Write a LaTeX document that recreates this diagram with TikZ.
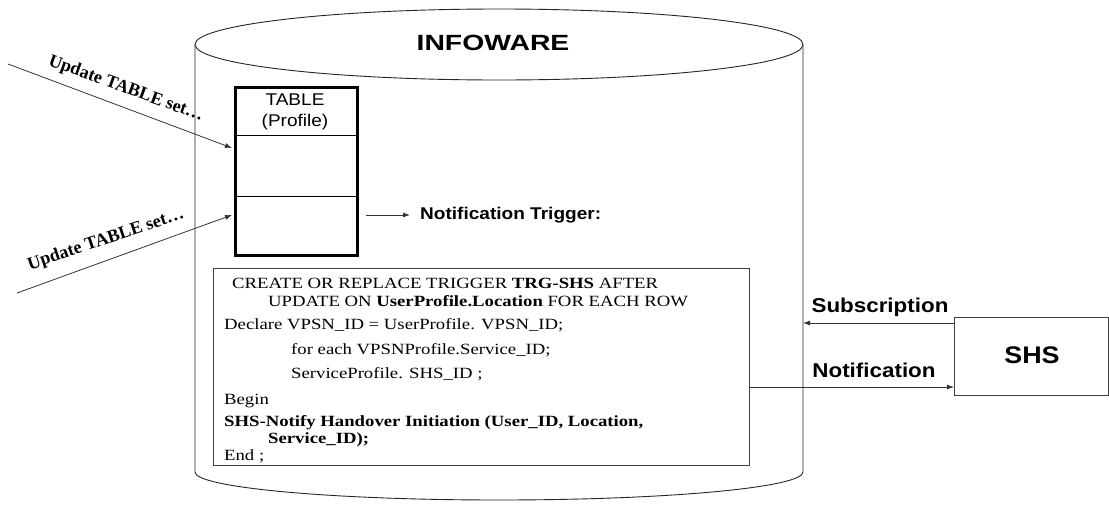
\documentclass[tikz,border=0pt]{standalone}
\usepackage{fontspec}
\usepackage{graphicx}
\setmainfont{Liberation Serif}
\newfontfamily\sansw{Liberation Sans}[FakeStretch=1.12]
\newfontfamily\codef{Liberation Serif}[FakeStretch=1.2]
\usetikzlibrary{arrows.meta}
\begin{document}
\begin{tikzpicture}[x=1pt,y=-1pt,
  outline/.style={line width=0.9pt,draw=black!85},
  arr/.style={line width=0.8pt,draw=black!80,-{Latex[length=7pt,width=5pt]}},
  tabbox/.style={draw=black,line width=2.6pt,minimum width=122pt,minimum height=168pt,inner sep=0,anchor=north west},
  codebox/.style={draw=black!75,line width=0.9pt,minimum width=536pt,minimum height=197pt,inner sep=0,anchor=north west},
  shsbox/.style={draw=black!75,line width=0.9pt,minimum width=154pt,minimum height=78pt,inner sep=0,anchor=north west},
  lab/.style={font=\bfseries\fontsize{18}{21}\selectfont,inner sep=0},
  code/.style={font=\codef\fontsize{15.6}{18}\selectfont,anchor=base west,inner sep=0},
  sanslab/.style={font=\sansw\bfseries\fontsize{20}{24}\selectfont,inner sep=0},
  tabtext/.style={font=\sansw\fontsize{17}{21}\selectfont,align=center,inner sep=0}
]
\useasboundingbox (0,0) rectangle (1109,504);
% cylinder
\draw[outline] (195,44.5) -- (195,472)
  .. controls (195,487.5) and (331,500) .. (499,500)
  .. controls (667,500) and (803,487.5) .. (803,472) -- (803,44.5);
\draw[outline,fill=white] (499,44.5) ellipse [x radius=304pt, y radius=35.5pt];
\node[font=\sansw\bfseries\fontsize{22}{26}\selectfont,inner sep=0] (title) at (493,43) {\scalebox{1.15}[1]{INFOWARE}};
% table
\node[tabbox] (tbl) at (234,86) {};
\draw[line width=1pt] (234,135) -- (356,135);
\draw[line width=1pt] (234,196) -- (356,196);
\node[tabtext] (tbltxt) at (295,112) {TABLE\\(Profile)};
% left update arrows
\coordinate (u1) at (8,64);
\coordinate (t1) at (232,148);
\coordinate (u2) at (17,293);
\coordinate (t2) at (232,215);
\draw[arr] (u1) -- (t1);
\draw[arr] (u2) -- (t2);
\node[lab,rotate=-20] (l1) at (126,89) {Update TABLE set\ldots};
\node[lab,rotate=18.5] (l2) at (106,240) {Update TABLE set\ldots};
% notification trigger
\node[sanslab,font=\sansw\bfseries\fontsize{17}{20}\selectfont,anchor=west] (trig) at (420,215) {Notification Trigger:};
\coordinate (tr0) at (366,215);
\draw[arr,shorten >=10pt] (tr0) -- (trig.west);
% code box
\node[codebox] (cb) at (213,268) {};
\node[code] (c1) at (232,288) {CREATE OR REPLACE TRIGGER \textbf{TRG-SHS} AFTER};
\node[code] (c2) at (268,306) {UPDATE ON \textbf{UserProfile.Location} FOR EACH ROW};
\node[code] (c3) at (224,329) {Declare VPSN\_ID = UserProfile. VPSN\_ID;};
\node[code] (c4) at (291,354) {for each VPSNProfile.Service\_ID;};
\node[code] (c5) at (291,378) {ServiceProfile. SHS\_ID ;};
\node[code] (c6) at (224,404) {Begin};
\node[code] (c7) at (224,426) {\textbf{SHS-Notify Handover Initiation (User\_ID, Location,}};
\node[code] (c8) at (268,443) {\textbf{Service\_ID);}};
\node[code] (c9) at (224,460) {End ;};
% SHS
\node[shsbox] (shs) at (954,317) {};
\node[font=\sansw\bfseries\fontsize{24}{28}\selectfont,inner sep=0] (shstxt) at (1032,355) {SHS};
\coordinate (cylr) at (803,323);
\draw[arr] (shs.west |- cylr) -- (cylr);
\draw[arr] (cb.east |- 0,387) -- (shs.west |- 0,387);
\node[sanslab] (sub) at (880,307) {Subscription};
\node[sanslab] (not) at (874,370) {Notification};
\end{tikzpicture}
\end{document}
